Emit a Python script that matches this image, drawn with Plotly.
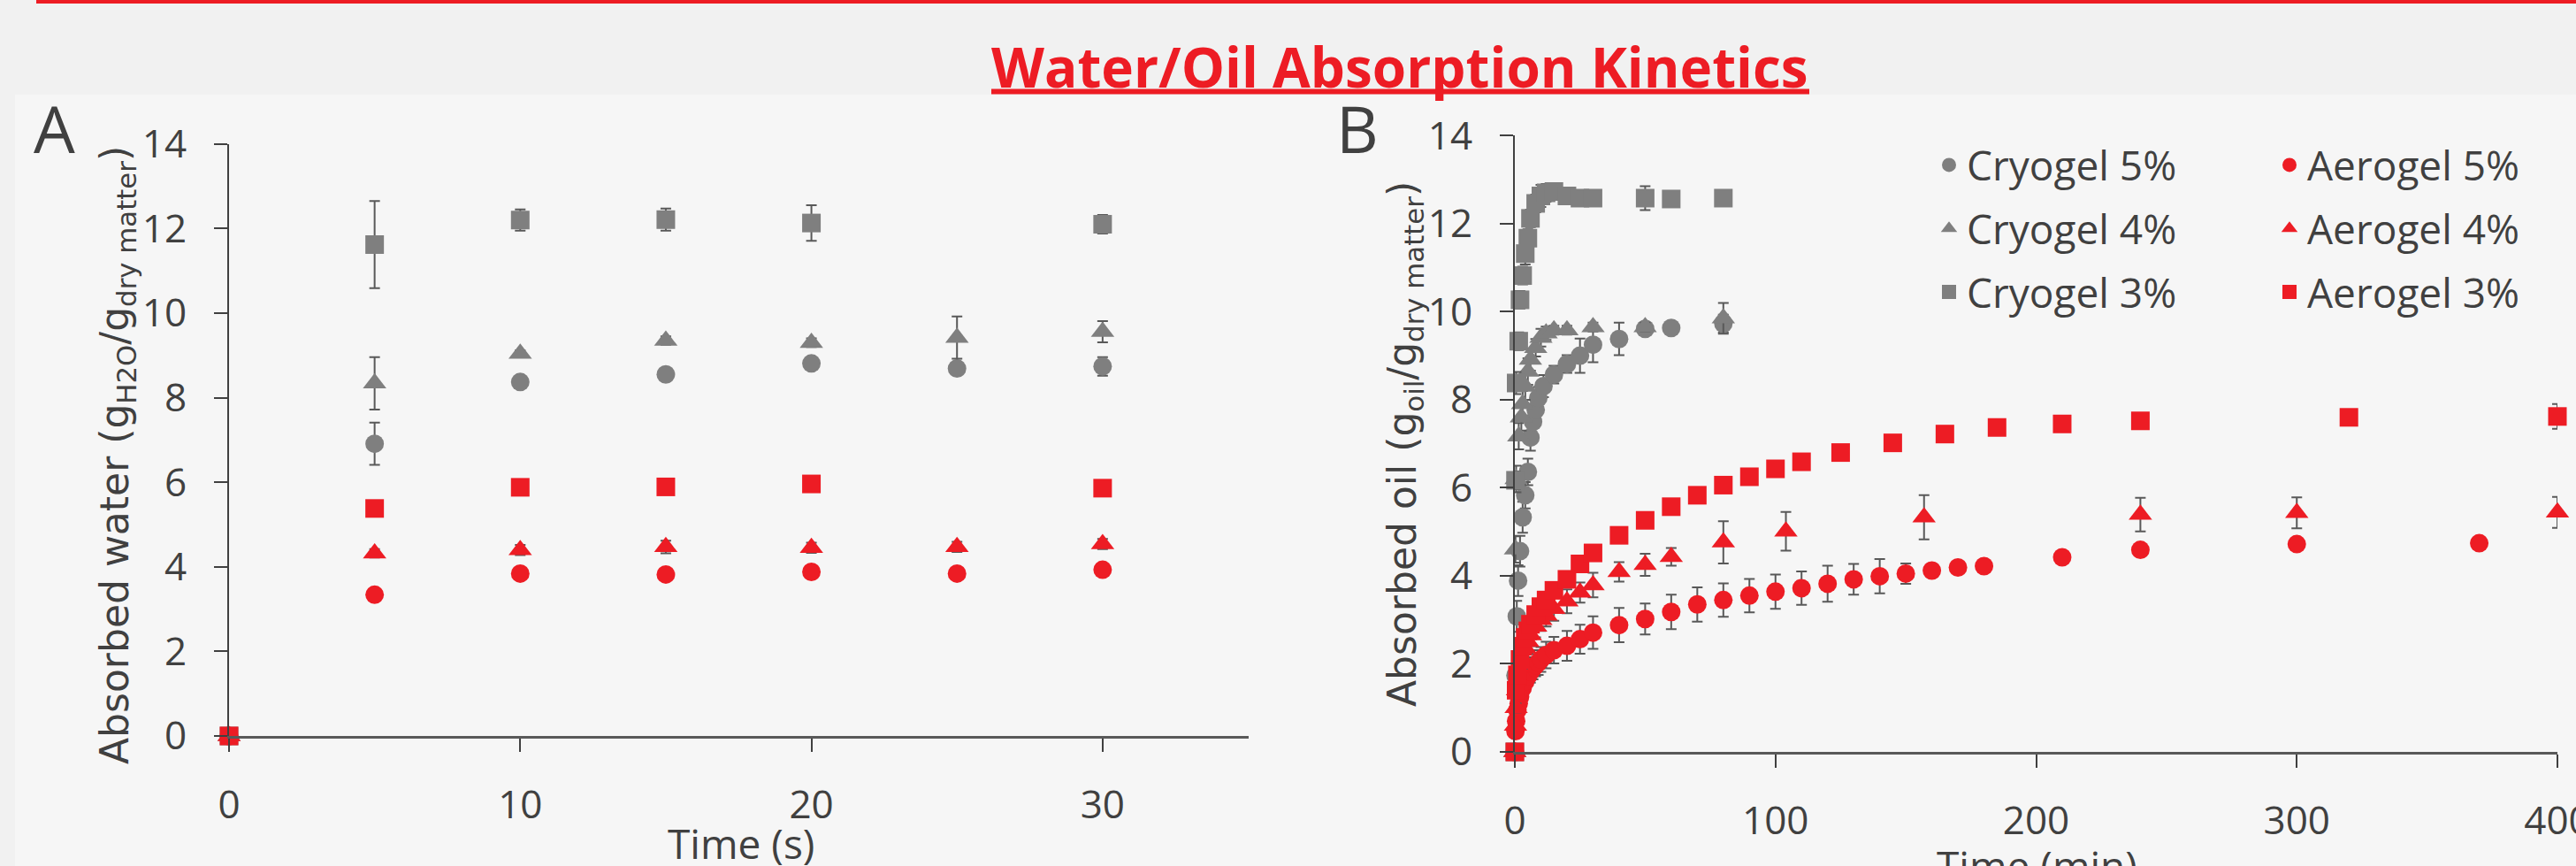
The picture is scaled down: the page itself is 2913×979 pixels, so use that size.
import plotly.graph_objects as go

W, H = 2913, 979

# ---------------- Chart A: water absorption (time in s) ----------------
a_time = [0, 5, 10, 15, 20, 25, 30]
a_cryo5 = [0, 6.91, 8.37, 8.55, 8.81, 8.69, 8.74]
a_cryo5_err = [0, 0.5, 0.1, 0.15, 0.1, 0.1, 0.22]
a_cryo4 = [0, 8.34, 9.04, 9.35, 9.30, 9.42, 9.56]
a_cryo4_err = [0, 0.62, 0.08, 0.1, 0.1, 0.5, 0.25]
a_cryo3 = [0, 11.62, 12.2, 12.21, 12.13, None, 12.1]
a_cryo3_err = [0, 1.03, 0.25, 0.26, 0.42, 0, 0.22]
a_aero5 = [0, 3.34, 3.84, 3.82, 3.88, 3.84, 3.93]
a_aero5_err = [0, 0.05, 0.05, 0.05, 0.05, 0.05, 0.05]
a_aero4 = [0, 4.32, 4.40, 4.47, 4.45, 4.47, 4.54]
a_aero4_err = [0, 0.1, 0.12, 0.15, 0.12, 0.12, 0.12]
a_aero3 = [0, 5.38, 5.88, 5.89, 5.96, None, 5.86]
a_aero3_err = [0, 0.05, 0.05, 0.05, 0.05, 0, 0.05]

# ---------------- Chart B: oil absorption (time in min) ----------------
b_cryo3_t = [0, 0.25, 0.5, 1.5, 2, 3, 4, 5, 6, 8, 10, 12, 15, 20, 25, 30, 50, 60, 80]
b_cryo3 = [0, 6.17, 8.38, 9.33, 10.27, 10.82, 11.32, 11.67, 12.12, 12.46, 12.63, 12.7,
           12.73, 12.63, 12.58, 12.58, 12.58, 12.56, 12.58]
b_cryo3_err = [0, 0.2, 0.25, 0.2, 0.2, 0.2, 0.25, 0.2, 0.2, 0.2, 0.25, 0.2, 0.1, 0.05,
               0.05, 0.05, 0.27, 0.05, 0.15]

b_cryo4_t = [0, 0.25, 0.5, 1.5, 2.5, 3, 4, 5, 6, 8, 10, 12, 15, 20, 30, 50, 80]
b_cryo4 = [0, 4.6, 6.2, 7.17, 7.6, 7.9, 8.3, 8.64, 8.91, 9.18, 9.41, 9.51, 9.58, 9.58,
           9.65, 9.65, 9.85]
b_cryo4_err = [0, 0.3, 0.3, 0.3, 0.3, 0.3, 0.3, 0.3, 0.25, 0.2, 0.2, 0.15, 0.1, 0.1,
               0.1, 0.1, 0.35]

b_cryo5_t = [0, 0.25, 0.75, 1.25, 2, 3, 4, 5, 6, 7, 8, 9, 11, 15, 20, 25, 30, 40, 50, 60, 80]
b_cryo5 = [0, 1.74, 3.08, 3.89, 4.56, 5.33, 5.83, 6.36, 7.14, 7.5, 7.77, 8.04, 8.31, 8.57,
           8.81, 9.0, 9.25, 9.38, 9.61, 9.63, 9.73]
b_cryo5_err = [0, 0.3, 0.35, 0.35, 0.35, 0.35, 0.3, 0.3, 0.3, 0.3, 0.3, 0.25, 0.25, 0.2,
               0.2, 0.39, 0.4, 0.37, 0.1, 0.05, 0.2]

b_aero5_t = [0, 0.25, 0.5, 1, 1.5, 2, 3, 4, 5, 6, 7, 8, 9, 10, 12, 15, 20, 25, 30, 40,
             50, 60, 70, 80, 90, 100, 110, 120, 130, 140, 150, 160, 170, 180, 210, 240, 300, 370]
b_aero5 = [0, 0.47, 0.7, 0.95, 1.1, 1.25, 1.45, 1.6, 1.72, 1.82, 1.9, 1.97, 2.03, 2.1, 2.2,
           2.31, 2.41, 2.56, 2.71, 2.88, 3.02, 3.18, 3.35, 3.45, 3.55, 3.64, 3.72, 3.82,
           3.92, 3.99, 4.05, 4.12, 4.19, 4.22, 4.42, 4.59, 4.72, 4.74]
b_aero5_err = [0, 0.05, 0.1, 0.12, 0.15, 0.18, 0.2, 0.2, 0.22, 0.25, 0.25, 0.25, 0.28,
               0.28, 0.3, 0.3, 0.34, 0.33, 0.37, 0.39, 0.35, 0.39, 0.39, 0.38, 0.38, 0.39,
               0.38, 0.41, 0.35, 0.39, 0.23, 0.15, 0.05, 0.05, 0.05, 0.05, 0.05, 0.05]

b_aero4_t = [0, 0.25, 0.5, 1, 2, 3, 4, 5, 6, 8, 10, 12, 15, 20, 25, 30, 40, 50, 60, 80,
             104, 157, 240, 300, 400]
b_aero4 = [0, 0.6, 1.0, 1.4, 1.8, 2.1, 2.35, 2.5, 2.65, 2.85, 3.0, 3.1, 3.25, 3.42, 3.62,
           3.79, 4.09, 4.25, 4.43, 4.76, 5.01, 5.33, 5.39, 5.43, 5.44]
b_aero4_err = [0, 0.05, 0.1, 0.15, 0.2, 0.2, 0.2, 0.25, 0.25, 0.25, 0.25, 0.25, 0.27,
               0.27, 0.23, 0.28, 0.22, 0.25, 0.2, 0.48, 0.44, 0.5, 0.38, 0.35, 0.35]

b_aero3_t = [0, 0.5, 1, 2, 3, 4, 5, 6, 8, 10, 12, 15, 20, 25, 30, 40, 50, 60, 70, 80, 90,
             100, 110, 125, 145, 165, 185, 210, 240, 320, 400]
b_aero3 = [0, 1.4, 1.75, 2.1, 2.4, 2.6, 2.75, 2.9, 3.12, 3.3, 3.45, 3.67, 3.92, 4.27, 4.52,
           4.92, 5.26, 5.57, 5.83, 6.06, 6.25, 6.43, 6.59, 6.8, 7.02, 7.22, 7.37, 7.45,
           7.52, 7.6, 7.62]
b_aero3_err = [0, 0.05, 0.05, 0.05, 0.05, 0.05, 0.05, 0.05, 0.05, 0.05, 0.05, 0.05, 0.05,
               0.05, 0.05, 0.05, 0.05, 0.05, 0.05, 0.05, 0.05, 0.05, 0.05, 0.05, 0.05,
               0.05, 0.05, 0.05, 0.08, 0.05, 0.28]

GRAY = "#7f7f7f"
RED = "#ed1c24"
ERR = "#595959"
TXT = "#404040"
MSIZE = 21


def px(x):
    return x / W


def py(y):
    return 1 - y / H


def trace(x, y, e, name, color, symbol, xa, ya, legend, showlegend):
    size = MSIZE + 2 if symbol == "triangle-up" else MSIZE
    return go.Scatter(
        x=x, y=y, mode="markers", name=name, xaxis=xa, yaxis=ya,
        marker=dict(color=color, symbol=symbol, size=size, line=dict(width=0)),
        error_y=dict(type="data", array=e, visible=True, color=ERR, thickness=2, width=6),
        cliponaxis=False, showlegend=showlegend, legend=legend, legendgroup=name,
    )


fig = go.Figure()
# Chart A
fig.add_trace(trace(a_time, a_cryo5, a_cryo5_err, "Cryogel 5%", GRAY, "circle", "x", "y", "legend", False))
fig.add_trace(trace(a_time, a_cryo4, a_cryo4_err, "Cryogel 4%", GRAY, "triangle-up", "x", "y", "legend", False))
fig.add_trace(trace(a_time, a_cryo3, a_cryo3_err, "Cryogel 3%", GRAY, "square", "x", "y", "legend", False))
fig.add_trace(trace(a_time, a_aero5, a_aero5_err, "Aerogel 5%", RED, "circle", "x", "y", "legend2", False))
fig.add_trace(trace(a_time, a_aero4, a_aero4_err, "Aerogel 4%", RED, "triangle-up", "x", "y", "legend2", False))
fig.add_trace(trace(a_time, a_aero3, a_aero3_err, "Aerogel 3%", RED, "square", "x", "y", "legend2", False))
# Chart B
fig.add_trace(trace(b_cryo5_t, b_cryo5, b_cryo5_err, "Cryogel 5%", GRAY, "circle", "x2", "y2", "legend", True))
fig.add_trace(trace(b_cryo4_t, b_cryo4, b_cryo4_err, "Cryogel 4%", GRAY, "triangle-up", "x2", "y2", "legend", True))
fig.add_trace(trace(b_cryo3_t, b_cryo3, b_cryo3_err, "Cryogel 3%", GRAY, "square", "x2", "y2", "legend", True))
fig.add_trace(trace(b_aero5_t, b_aero5, b_aero5_err, "Aerogel 5%", RED, "circle", "x2", "y2", "legend2", True))
fig.add_trace(trace(b_aero4_t, b_aero4, b_aero4_err, "Aerogel 4%", RED, "triangle-up", "x2", "y2", "legend2", True))
fig.add_trace(trace(b_aero3_t, b_aero3, b_aero3_err, "Aerogel 3%", RED, "square", "x2", "y2", "legend2", True))

tickfont = dict(family="Open Sans", size=44, color=TXT)
common_x = dict(showgrid=False, zeroline=False, showline=True, linecolor="#595959", linewidth=3,
                ticks="outside", ticklen=15, tickwidth=2, tickcolor=TXT, tickfont=tickfont,
                ticklabelstandoff=22, automargin=False, ticklabeloverflow="allow")
common_y = dict(showgrid=False, zeroline=False, showline=True, linecolor=TXT, linewidth=2,
                ticks="outside", ticklen=15, tickwidth=2, tickcolor=TXT, tickfont=tickfont,
                range=[0, 14], tickvals=[0, 2, 4, 6, 8, 10, 12, 14], ticklabelstandoff=22,
                automargin=False, ticklabeloverflow="allow")

legend_common = dict(font=dict(family="Open Sans", size=46, color=TXT), bgcolor="rgba(0,0,0,0)",
                     tracegroupgap=9, xanchor="left", yanchor="top", itemsizing="trace")

fig.update_layout(
    width=W, height=H, autosize=False,
    margin=dict(l=0, r=0, t=0, b=0, pad=0, autoexpand=False),
    paper_bgcolor="#f1f1f1", plot_bgcolor="#f6f6f6",
    xaxis=dict(domain=[px(259), px(1411.5)], range=[0, 35], tickvals=[0, 10, 20, 30],
               anchor="y", **common_x),
    yaxis=dict(domain=[py(832), py(162.7)], anchor="x", **common_y),
    xaxis2=dict(domain=[px(1713), px(2892)], range=[0, 400], tickvals=[0, 100, 200, 300, 400],
                anchor="y2", **common_x),
    yaxis2=dict(domain=[py(850), py(153.3)], anchor="x2", **common_y),
    legend=dict(x=px(2184), y=py(150), **legend_common),
    legend2=dict(x=px(2569), y=py(150), **legend_common),
    shapes=[
        dict(type="rect", xref="paper", yref="paper", x0=px(17), x1=1, y0=0, y1=py(107),
             fillcolor="#f6f6f6", line=dict(width=0), layer="below"),
        dict(type="rect", xref="paper", yref="paper", x0=px(41), x1=1, y0=py(4), y1=1,
             fillcolor=RED, line=dict(width=0)),
        dict(type="line", xref="paper", yref="paper", x0=px(1121), x1=px(2046),
             y0=py(103.5), y1=py(103.5), line=dict(color=RED, width=6)),
    ],
    annotations=[
        dict(text="<b>Water/Oil Absorption Kinetics</b>", x=px(1583), y=py(75), xref="paper",
             yref="paper", xanchor="center", yanchor="middle", showarrow=False,
             font=dict(family="Open Sans", size=62, color=RED)),
        dict(text="A", x=px(36), y=py(144), xref="paper", yref="paper", xanchor="left",
             yanchor="middle", showarrow=False, font=dict(family="Open Sans", size=74, color=TXT)),
        dict(text="B", x=px(1509), y=py(144), xref="paper", yref="paper", xanchor="left",
             yanchor="middle", showarrow=False, font=dict(family="Open Sans", size=74, color=TXT)),
        dict(text="Absorbed water (g<sub>H2O</sub>/g<sub>dry matter</sub>)", x=px(132), y=py(515),
             xref="paper", yref="paper", xanchor="center", yanchor="middle", textangle=-90,
             showarrow=False, font=dict(family="DejaVu Sans", size=44, color=TXT)),
        dict(text="Absorbed oil (g<sub>oil</sub>/g<sub>dry matter</sub>)", x=px(1588), y=py(502),
             xref="paper", yref="paper", xanchor="center", yanchor="middle", textangle=-90,
             showarrow=False, font=dict(family="DejaVu Sans", size=44, color=TXT)),
        dict(text="Time (s)", x=px(838), y=py(953), xref="paper", yref="paper", xanchor="center",
             yanchor="middle", showarrow=False, font=dict(family="Open Sans", size=46, color=TXT)),
        dict(text="Time (min)", x=px(2303), y=py(978), xref="paper", yref="paper", xanchor="center",
             yanchor="middle", showarrow=False, font=dict(family="Open Sans", size=46, color=TXT)),
    ],
)

fig.write_html("out.html", config={"displayModeBar": False},
               post_script="document.body.style.margin='0px';document.body.style.overflow='hidden';")
